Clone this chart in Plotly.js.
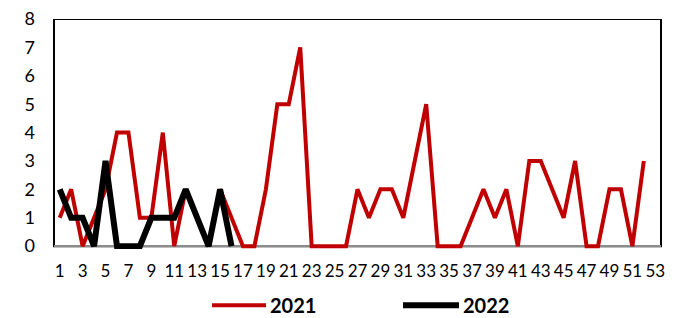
<!DOCTYPE html>
<html>
<head>
<meta charset="utf-8">
<script src="https://cdn.plot.ly/plotly-3.0.1.min.js"></script>
<style>
  html, body { margin: 0; padding: 0; background: #fff; }
  #chart { width: 680px; height: 318px; }
</style>
</head>
<body>
<div id="chart"></div>
<script>
// Week numbers (category axis 1..53)
const weeks = Array.from({length: 53}, (_, i) => i + 1);
const tickWeeks = weeks.filter(w => w % 2 === 1);

// Series names
const name2021 = "2021";
const name2022 = "2022";

// Weekly counts
const values2021 = [1, 2, 0, 1, 2, 4, 4, 1, 1, 4, 0, 2, 1, 0, 2, 1, 0, 0, 2, 5, 5, 7, 0, 0, 0, 0,
                    2, 1, 2, 2, 1, 3, 5, 0, 0, 0, 1, 2, 1, 2, 0, 3, 3, 2, 1, 3, 0, 0, 2, 2, 0, 3];
const values2022 = [2, 1, 1, 0, 3, 0, 0, 0, 1, 1, 1, 2, 1, 0, 2, 0];

const colors = {y2021: "#C00000", y2022: "#000000"};
const widths = {y2021: 4, y2022: 6};

const traces = [
  {
    x: weeks.slice(0, values2021.length),
    y: values2021,
    name: name2021,
    type: "scatter",
    mode: "lines",
    line: {color: colors.y2021, width: widths.y2021}
  },
  {
    x: weeks.slice(0, values2022.length),
    y: values2022,
    name: name2022,
    type: "scatter",
    mode: "lines",
    line: {color: colors.y2022, width: widths.y2022}
  }
];

// custom legend placement (paper coords)
const legY = -0.245;
const legendItems = [
  {name: name2021, color: colors.y2021, width: widths.y2021, x0: 0.2603, x1: 0.3493, tx: 0.3540},
  {name: name2022, color: colors.y2022, width: widths.y2022, x0: 0.5750, x1: 0.6672, tx: 0.6720}
];

const shapes = [
  {
    type: "rect", xref: "paper", yref: "y",
    x0: 0, x1: 1, y0: 0, y1: 8,
    line: {color: "#000", width: 2},
    layer: "below"
  }
];
const annotations = [];
legendItems.forEach(it => {
  shapes.push({
    type: "line", xref: "paper", yref: "paper",
    x0: it.x0, x1: it.x1, y0: legY, y1: legY,
    line: {color: it.color, width: it.width}
  });
  annotations.push({
    xref: "paper", yref: "paper", x: it.tx, y: legY,
    xanchor: "left", yanchor: "middle", showarrow: false,
    borderpad: 0,
    text: "<b>" + it.name + "</b>",
    font: {size: 20, family: "Lato, sans-serif", color: "#000"}
  });
});

const layout = {
  width: 680,
  height: 318,
  margin: {l: 54, r: 19, t: 19, b: 69},
  paper_bgcolor: "#ffffff",
  plot_bgcolor: "#ffffff",
  font: {family: "Lato, 'Liberation Sans', sans-serif", color: "#000"},
  xaxis: {
    range: [0.5, 53.5],
    tickmode: "array",
    tickvals: tickWeeks,
    ticktext: tickWeeks.map(String),
    showgrid: false,
    zeroline: false,
    showline: false,
    ticks: "",
    ticklabelstandoff: 10,
    tickfont: {size: 17, family: "Lato, sans-serif", color: "#000"},
    automargin: false,
    fixedrange: true
  },
  yaxis: {
    range: [-0.1, 8],
    tickmode: "linear",
    tick0: 0,
    dtick: 1,
    showgrid: false,
    zeroline: true,
    zerolinecolor: "#8c8c8c",
    zerolinewidth: 2,
    showline: false,
    ticks: "",
    ticklabelstandoff: 18,
    tickfont: {size: 18, family: "Lato, sans-serif", color: "#000"},
    automargin: false,
    fixedrange: true
  },
  shapes: shapes,
  annotations: annotations,
  showlegend: false
};

Plotly.newPlot("chart", traces, layout, {displayModeBar: false, staticPlot: true});
</script>
</body>
</html>
